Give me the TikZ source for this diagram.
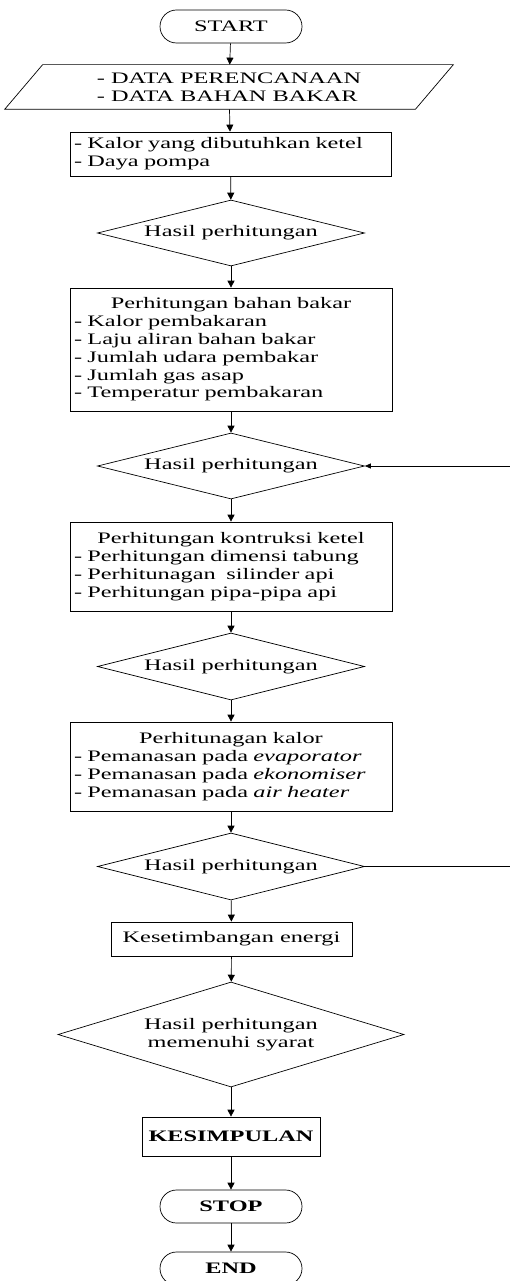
\documentclass[tikz,border=0pt]{standalone}
\usepackage{fontspec}
\setmainfont{Liberation Serif}[FakeStretch=1.52]
\usetikzlibrary{shapes.geometric,arrows.meta}
\begin{document}
\begin{tikzpicture}[x=1pt,y=-1pt,
  every node/.style={font=\fontsize{16}{17.8}\selectfont, line width=0.7pt},
  term/.style={draw, rectangle, rounded corners=16.5pt, minimum width=142pt, minimum height=33pt, inner sep=0pt},
  procbox/.style={draw, rectangle, inner xsep=4pt, inner ysep=0pt, align=left},
  plainbox/.style={draw, rectangle, inner sep=0pt, align=center},
  decision/.style={draw, diamond, inner sep=0pt, align=center},
  flow/.style={-{Triangle[length=7pt,width=7pt]}, line width=0.7pt},
  sideflow/.style={-{Triangle[length=6pt,width=5pt]}, line width=0.7pt},
  sideline/.style={line width=0.7pt}
]
\useasboundingbox (0,0) rectangle (510,1281);

\node[term] (start) at (231,26.5) {START};
\node[rectangle, inner sep=0pt, minimum width=410pt, minimum height=44pt, align=left] (data) at (229,87) {- DATA PERENCANAAN\\- DATA BAHAN BAKAR};
\draw[line width=0.7pt] ([xshift=-19pt]data.south west) -- ([xshift=19pt]data.north west) -- ([xshift=19pt]data.north east) -- ([xshift=-19pt]data.south east) -- cycle;

\node[procbox, text width=313pt, minimum height=44pt] (b1) at (230.5,154) {- Kalor yang dibutuhkan ketel\\- Daya pompa};
\node[decision, minimum width=267pt, minimum height=66pt, aspect=4] (d1) at (231,233) {Hasil perhitungan};
\node[procbox, text width=314pt, minimum height=123pt] (b2) at (231,349.5) {\makebox[314pt][c]{Perhitungan bahan bakar}\\- Kalor pembakaran\\- Laju aliran bahan bakar\\- Jumlah udara pembakar\\- Jumlah gas asap\\- Temperatur pembakaran};
\node[decision, minimum width=267pt, minimum height=66pt, aspect=4] (d2) at (231,466) {Hasil perhitungan};
\node[procbox, text width=314pt, minimum height=89pt] (b3) at (231,566.5) {\makebox[314pt][c]{Perhitungan kontruksi ketel}\\- Perhitungan dimensi tabung\\- Perhitunagan~ silinder api\\- Perhitungan pipa-pipa api};
\node[decision, minimum width=267pt, minimum height=67pt, aspect=4] (d3) at (231,666.5) {Hasil perhitungan};
\node[procbox, text width=314pt, minimum height=89pt] (b4) at (231,766.5) {\makebox[314pt][c]{Perhitunagan kalor}\\- Pemanasan pada \textit{evaporator}\\- Pemanasan pada \textit{ekonomiser}\\- Pemanasan pada \textit{air heater}};
\node[decision, minimum width=267pt, minimum height=67pt, aspect=4] (d4) at (231,866.5) {Hasil perhitungan};
\node[plainbox, minimum width=241pt, minimum height=34pt] (b5) at (231.5,939) {Kesetimbangan energi};
\node[decision, minimum width=346pt, minimum height=105pt, aspect=3.3] (d5) at (231,1034.5) {Hasil perhitungan\\memenuhi syarat};
\node[plainbox, minimum width=178pt, minimum height=39pt, font=\fontsize{16}{17.8}\selectfont\bfseries] (concl) at (231,1136.5) {KESIMPULAN};
\node[term, font=\fontsize{16}{17.8}\selectfont\bfseries] (stop) at (231,1206.5) {STOP};
\node[term, font=\fontsize{16}{17.8}\selectfont\bfseries] (end) at (231,1268.5) {END};

\coordinate (r2) at (510,466);
\coordinate (r4) at (510,866.5);

\draw[flow] (start) -- (data);
\draw[flow] (data) -- (b1);
\draw[flow] (b1) -- (d1);
\draw[flow] (d1) -- (b2);
\draw[flow] (b2) -- (d2);
\draw[flow] (d2) -- (b3);
\draw[flow] (b3) -- (d3);
\draw[flow] (d3) -- (b4);
\draw[flow] (b4) -- (d4);
\draw[flow] (d4) -- (b5);
\draw[flow] (b5) -- (d5);
\draw[flow] (d5) -- (concl);
\draw[flow] (concl) -- (stop);
\draw[flow] (stop) -- (end);
\draw[sideflow] (r2) -- (d2.east);
\draw[sideline] (d4.east) -- (r4);
\end{tikzpicture}
\end{document}
